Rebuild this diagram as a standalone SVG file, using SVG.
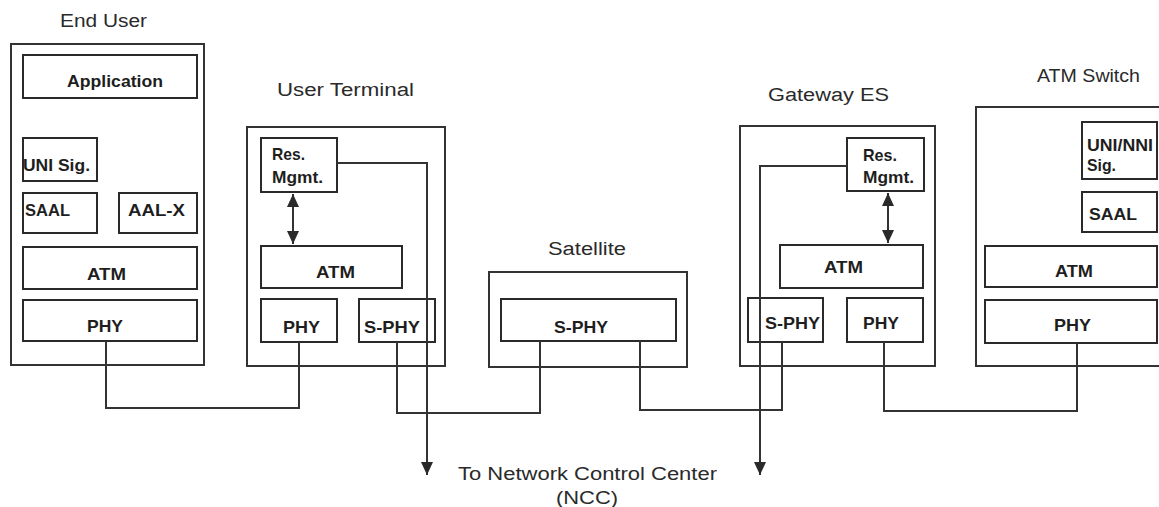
<svg xmlns="http://www.w3.org/2000/svg" width="1159" height="507" viewBox="0 0 1159 507">
<defs>
<marker id="ah" viewBox="0 0 13 14" refX="13" refY="7" markerWidth="13" markerHeight="14" markerUnits="userSpaceOnUse" orient="auto">
<path d="M0,1 L13,7 L0,13 Z" fill="#2a2a2a"/>
</marker>
<marker id="ahs" viewBox="0 0 13 14" refX="0" refY="7" markerWidth="13" markerHeight="14" markerUnits="userSpaceOnUse" orient="auto">
<path d="M13,1 L0,7 L13,13 Z" fill="#2a2a2a"/>
</marker>
<style>
.outer{fill:none;stroke:#333;stroke-width:2}
.box{fill:#fff;stroke:#2a2a2a;stroke-width:2}
.title{font-family:"Liberation Sans",Arial,sans-serif;font-size:18px;fill:#2a2a2a}
.lbl{font-family:"Liberation Sans",Arial,sans-serif;font-size:17px;font-weight:bold;fill:#1e1e1e}
.conn{fill:none;stroke:#333;stroke-width:2}
</style>
</defs>
<rect width="1159" height="507" fill="#fff"/>

<g id="end-user">
<text class="title" x="103.5" y="27" text-anchor="middle" textLength="87" lengthAdjust="spacingAndGlyphs">End User</text>
<rect class="outer" x="11" y="44" width="193" height="321"/>
<rect class="box" x="23" y="55" width="174" height="43"/>
<text class="lbl" x="67" y="87" textLength="96" lengthAdjust="spacingAndGlyphs">Application</text>
<rect class="box" x="23" y="138" width="74" height="43"/>
<text class="lbl" x="23" y="171" textLength="67" lengthAdjust="spacingAndGlyphs">UNI Sig.</text>
<rect class="box" x="23" y="193" width="74" height="40"/>
<text class="lbl" x="25" y="216" textLength="45" lengthAdjust="spacingAndGlyphs">SAAL</text>
<rect class="box" x="119" y="193" width="78" height="40"/>
<text class="lbl" x="128" y="216" textLength="57" lengthAdjust="spacingAndGlyphs">AAL-X</text>
<rect class="box" x="23" y="247" width="174" height="42"/>
<text class="lbl" x="87" y="280" textLength="39" lengthAdjust="spacingAndGlyphs">ATM</text>
<rect class="box" x="23" y="300" width="174" height="41"/>
<text class="lbl" x="87" y="332" textLength="36" lengthAdjust="spacingAndGlyphs">PHY</text>
</g>

<g id="user-terminal">
<text class="title" x="345.5" y="96" text-anchor="middle" textLength="137" lengthAdjust="spacingAndGlyphs">User Terminal</text>
<rect class="outer" x="247" y="127" width="198" height="239"/>
<rect class="box" x="261" y="138" width="76" height="54"/>
<text class="lbl" x="272" y="160" textLength="33" lengthAdjust="spacingAndGlyphs">Res.</text>
<text class="lbl" x="272" y="183" textLength="51" lengthAdjust="spacingAndGlyphs">Mgmt.</text>
<rect class="box" x="261" y="246" width="141" height="42"/>
<text class="lbl" x="316" y="278" textLength="39" lengthAdjust="spacingAndGlyphs">ATM</text>
<rect class="box" x="261" y="299" width="76" height="43"/>
<text class="lbl" x="283" y="333" textLength="37" lengthAdjust="spacingAndGlyphs">PHY</text>
<rect class="box" x="359" y="299" width="76" height="43" fill="none"/>
<text class="lbl" x="364" y="333" textLength="56" lengthAdjust="spacingAndGlyphs">S-PHY</text>
<line class="conn" x1="293" y1="194" x2="293" y2="244" marker-start="url(#ahs)" marker-end="url(#ah)"/>
</g>

<g id="satellite">
<text class="title" x="587" y="255" text-anchor="middle" textLength="78" lengthAdjust="spacingAndGlyphs">Satellite</text>
<rect class="outer" x="489" y="272" width="198" height="95"/>
<rect class="box" x="501" y="299" width="175" height="42"/>
<text class="lbl" x="554" y="333" textLength="54" lengthAdjust="spacingAndGlyphs">S-PHY</text>
</g>

<g id="gateway-es">
<text class="title" x="828.5" y="101" text-anchor="middle" textLength="121" lengthAdjust="spacingAndGlyphs">Gateway ES</text>
<rect class="outer" x="740" y="126" width="195" height="240"/>
<rect class="box" x="847" y="138" width="77" height="53"/>
<text class="lbl" x="863" y="161" textLength="34" lengthAdjust="spacingAndGlyphs">Res.</text>
<text class="lbl" x="863" y="183" textLength="51" lengthAdjust="spacingAndGlyphs">Mgmt.</text>
<rect class="box" x="780" y="245" width="143" height="43"/>
<text class="lbl" x="824" y="273" textLength="39" lengthAdjust="spacingAndGlyphs">ATM</text>
<rect class="box" x="748" y="298" width="75" height="44" fill="none"/>
<text class="lbl" x="765" y="329" textLength="55" lengthAdjust="spacingAndGlyphs">S-PHY</text>
<rect class="box" x="847" y="298" width="76" height="44"/>
<text class="lbl" x="863" y="329" textLength="36" lengthAdjust="spacingAndGlyphs">PHY</text>
<line class="conn" x1="888" y1="193" x2="888" y2="243" marker-start="url(#ahs)" marker-end="url(#ah)"/>
</g>

<g id="atm-switch">
<text class="title" x="1088.5" y="82" text-anchor="middle" textLength="103" lengthAdjust="spacingAndGlyphs">ATM Switch</text>
<rect class="outer" x="976" y="107" width="200" height="259"/>
<rect class="box" x="1082" y="122" width="75" height="57"/>
<text class="lbl" x="1087" y="151" textLength="66" lengthAdjust="spacingAndGlyphs">UNI/NNI</text>
<text class="lbl" x="1087" y="171" textLength="29" lengthAdjust="spacingAndGlyphs">Sig.</text>
<rect class="box" x="1082" y="192" width="75" height="40"/>
<text class="lbl" x="1089" y="220" textLength="48" lengthAdjust="spacingAndGlyphs">SAAL</text>
<rect class="box" x="985" y="246" width="172" height="41"/>
<text class="lbl" x="1055" y="277" textLength="38" lengthAdjust="spacingAndGlyphs">ATM</text>
<rect class="box" x="985" y="300" width="172" height="43"/>
<text class="lbl" x="1054" y="331" textLength="37" lengthAdjust="spacingAndGlyphs">PHY</text>
</g>

<g id="connectors">
<path class="conn" d="M106,341 V408 H299 V342"/>
<path class="conn" d="M397,342 V413 H540 V341"/>
<path class="conn" d="M640,341 V410 H782 V342"/>
<path class="conn" d="M884,342 V411 H1077 V343"/>
<path class="conn" d="M337,163 H427 V475" marker-end="url(#ah)"/>
<path class="conn" d="M847,166 H760 V475" marker-end="url(#ah)"/>
</g>

<g id="ncc-label">
<text class="title" x="587.5" y="480" text-anchor="middle" textLength="259" lengthAdjust="spacingAndGlyphs">To Network Control Center</text>
<text class="title" x="587" y="504" text-anchor="middle" textLength="62" lengthAdjust="spacingAndGlyphs">(NCC)</text>
</g>
</svg>
